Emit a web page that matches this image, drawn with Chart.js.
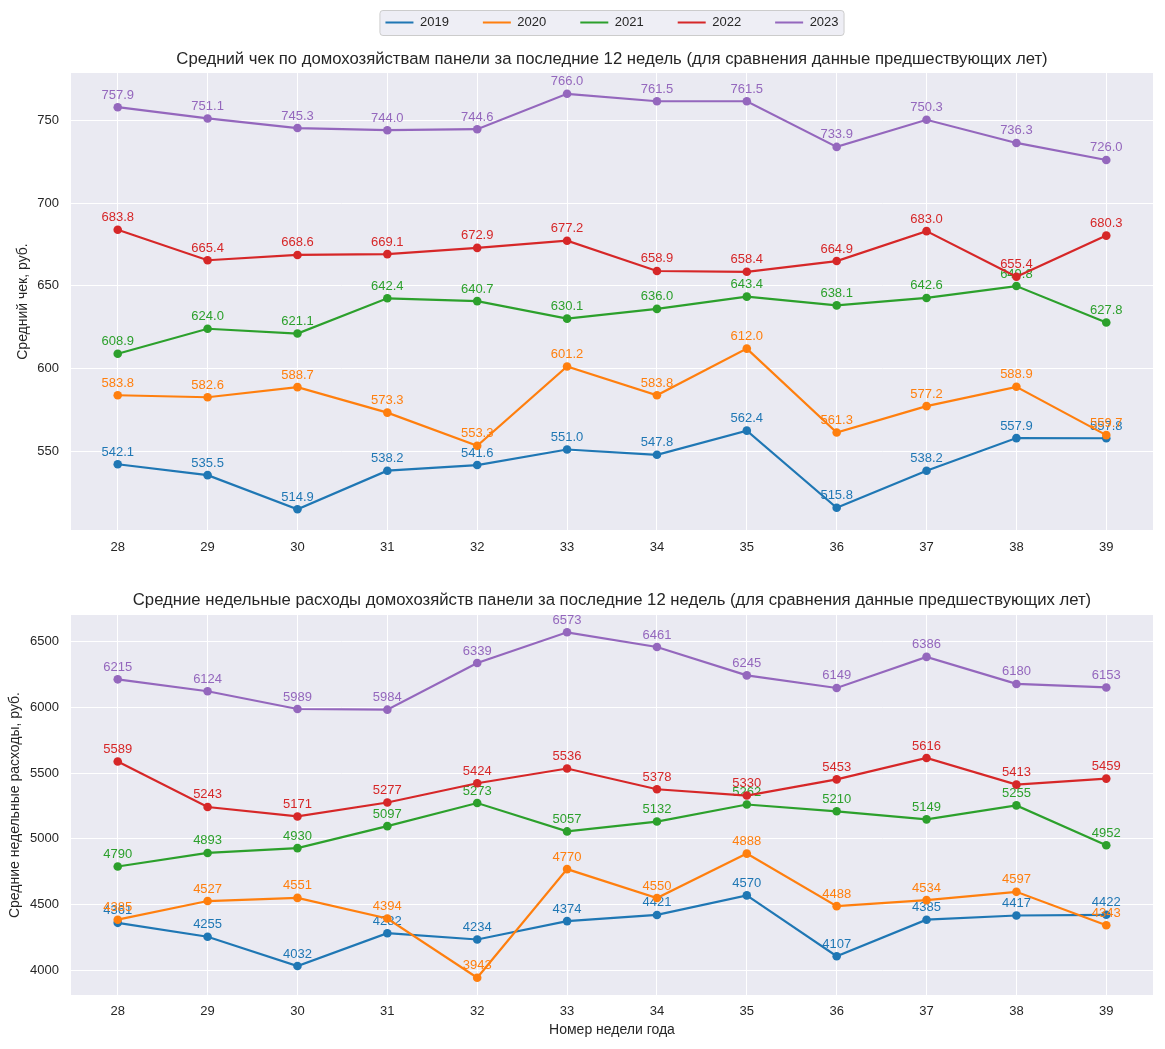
<!DOCTYPE html>
<html>
<head>
<meta charset="utf-8">
<script src="https://cdn.jsdelivr.net/npm/chart.js@4.4.0/dist/chart.umd.min.js"></script>
<style>
  body { margin: 0; background: #ffffff; }
  .box { position: relative; width: 1165px; }
</style>
</head>
<body>
<div class="box" style="height:575px"><canvas id="checkChart"></canvas></div>
<div class="box" style="height:474px"><canvas id="spendChart"></canvas></div>
<script>
const weeks = [28, 29, 30, 31, 32, 33, 34, 35, 36, 37, 38, 39];
const years = ['2019', '2020', '2021', '2022', '2023'];
const colors = ['#1f77b4', '#ff7f0e', '#2ca02c', '#d62728', '#9467bd'];

// средний чек, руб.
const check2019 = [542.1, 535.5, 514.9, 538.2, 541.6, 551.0, 547.8, 562.4, 515.8, 538.2, 557.9, 557.8];
const check2020 = [583.8, 582.6, 588.7, 573.3, 553.3, 601.2, 583.8, 612.0, 561.3, 577.2, 588.9, 559.7];
const check2021 = [608.9, 624.0, 621.1, 642.4, 640.7, 630.1, 636.0, 643.4, 638.1, 642.6, 649.8, 627.8];
const check2022 = [683.8, 665.4, 668.6, 669.1, 672.9, 677.2, 658.9, 658.4, 664.9, 683.0, 655.4, 680.3];
const check2023 = [757.9, 751.1, 745.3, 744.0, 744.6, 766.0, 761.5, 761.5, 733.9, 750.3, 736.3, 726.0];

// средние недельные расходы, руб.
const spend2019 = [4361, 4255, 4032, 4282, 4234, 4374, 4421, 4570, 4107, 4385, 4417, 4422];
const spend2020 = [4385, 4527, 4551, 4394, 3943, 4770, 4550, 4888, 4488, 4534, 4597, 4343];
const spend2021 = [4790, 4893, 4930, 5097, 5273, 5057, 5132, 5262, 5210, 5149, 5255, 4952];
const spend2022 = [5589, 5243, 5171, 5277, 5424, 5536, 5378, 5330, 5453, 5616, 5413, 5459];
const spend2023 = [6215, 6124, 5989, 5984, 6339, 6573, 6461, 6245, 6149, 6386, 6180, 6153];

const checkTicks = [550, 600, 650, 700, 750];
const spendTicks = [4000, 4500, 5000, 5500, 6000, 6500];

const checkTitle = 'Средний чек по домохозяйствам панели за последние 12 недель (для сравнения данные предшествующих лет)';
const spendTitle = 'Средние недельные расходы домохозяйств панели за последние 12 недель (для сравнения данные предшествующих лет)';

const FONT = '"Liberation Sans", Arial, sans-serif';
const TEXT = '#262626';
const TITLE_SIZE = 16.7;

function padRange(arrs, frac) {
  const all = [].concat(...arrs);
  const lo = Math.min(...all), hi = Math.max(...all);
  const m = (hi - lo) * frac;
  return { min: lo - m, max: hi + m };
}

// фон панели и рамка легенды
const panelBg = {
  id: 'panelBg',
  beforeDraw(chart) {
    const { ctx, chartArea: a } = chart;
    ctx.save();
    ctx.fillStyle = '#eaeaf2';
    ctx.fillRect(a.left, a.top, a.right - a.left, a.bottom - a.top);
    const lg = chart.legend;
    if (lg && lg.options.display) {
      const P = lg.options.labels.padding;
      const W = lg.lineWidths[0];
      const x0 = (lg.left + P + lg.right - W) / 2;
      const x1 = x0 + W - P;
      ctx.beginPath();
      ctx.roundRect(x0 - 5.5, 10.5, x1 - x0 + 11, 25, 3);
      ctx.fillStyle = 'rgba(234,234,242,0.8)';
      ctx.fill();
      ctx.strokeStyle = '#cccccc';
      ctx.lineWidth = 1;
      ctx.stroke();
    }
    ctx.restore();
  }
};

// центрирование заголовка и легенды над областью графика
const centerBoxes = {
  id: 'centerBoxes',
  afterLayout(chart, args, opts) {
    const a = chart.chartArea;
    const mid = (a.left + a.right) / 2;
    const t = chart.titleBlock;
    if (t && t.options.display) {
      const dx = mid - (t.left + t.right) / 2;
      t.left += dx; t.right += dx;
      if (opts.titleCenter != null) {
        const h = t.height;
        t.top = opts.titleCenter - t.options.font.size * 0.6;
        t.bottom = t.top + h;
      }
    }
    const lg = chart.legend;
    if (lg && lg.options.display) {
      const dx = mid - (lg.left + lg.right) / 2;
      lg.left += dx; lg.right += dx;
      const P = lg.options.labels.padding;
      lg.top = opts.legendCenter - 6.5 - P;
      lg.height = 90;
      lg.bottom = lg.top + 90;
    }
  }
};

// подписи значений над точками
const valueLabels = {
  id: 'valueLabels',
  afterDatasetDraw(chart, args, opts) {
    const { ctx } = chart;
    const ds = chart.data.datasets[args.index];
    ctx.save();
    ctx.font = '13px ' + FONT;
    ctx.fillStyle = ds.borderColor;
    ctx.textAlign = 'center';
    ctx.textBaseline = 'alphabetic';
    args.meta.data.forEach((pt, i) => {
      ctx.fillText(ds.data[i].toFixed(opts.digits), pt.x, pt.y - 8.5);
    });
    ctx.restore();
  }
};

function makeChart(id, series, yTicks, cfg) {
  const yr = padRange(series, 0.05);
  const ctx = document.getElementById(id).getContext('2d');
  return new Chart(ctx, {
    type: 'line',
    data: {
      labels: weeks,
      datasets: series.map((vals, i) => ({
        label: years[i],
        data: vals,
        borderColor: colors[i],
        backgroundColor: colors[i],
        borderWidth: 2.2,
        pointRadius: 4.3,
        pointHoverRadius: 4.3,
        pointBorderWidth: 0,
        pointBackgroundColor: colors[i],
        tension: 0,
        order: series.length - i,
      })),
    },
    options: {
      responsive: true,
      maintainAspectRatio: false,
      animation: false,
      events: [],
      layout: { padding: { left: 0, right: 12, top: cfg.padTop, bottom: 0 } },
      scales: {
        x: {
          type: 'linear',
          min: weeks[0] - 0.52,
          max: weeks[weeks.length - 1] + 0.52,
          afterBuildTicks: (ax) => { ax.ticks = weeks.map(v => ({ value: v })); },
          afterFit: (ax) => { ax.height = cfg.xHeight; },
          border: { display: false },
          grid: { color: '#ffffff', lineWidth: 1, drawTicks: false },
          ticks: { color: TEXT, font: { family: FONT, size: 13 }, padding: cfg.xTickPad, autoSkip: false, maxRotation: 0, callback: v => String(v) },
          title: cfg.xTitle ? { display: true, text: cfg.xTitle, color: TEXT, font: { family: FONT, size: 14 }, padding: { top: 0, bottom: cfg.xTitlePad } } : { display: false },
        },
        y: {
          min: yr.min,
          max: yr.max,
          afterBuildTicks: (ax) => { ax.ticks = yTicks.map(v => ({ value: v })); },
          afterFit: (ax) => { ax.width = 71; },
          border: { display: false },
          grid: { color: '#ffffff', lineWidth: 1, drawTicks: false },
          ticks: { color: TEXT, font: { family: FONT, size: 13 }, padding: 12, callback: v => String(v) },
          title: { display: true, text: cfg.yTitle, color: TEXT, font: { family: FONT, size: 14 }, padding: { top: cfg.yTitlePad, bottom: 0 } },
        },
      },
      plugins: {
        tooltip: { enabled: false },
        legend: {
          display: cfg.legend,
          maxHeight: 40,
          labels: {
            color: TEXT,
            font: { family: FONT, size: 13 },
            boxWidth: 28,
            boxHeight: 2,
            padding: 34,
            sort: (a, b) => a.datasetIndex - b.datasetIndex,
            generateLabels: (chart) => Chart.defaults.plugins.legend.labels.generateLabels(chart).map(l => Object.assign(l, { lineWidth: 0 })),
          },
        },
        title: {
          display: true,
          text: cfg.title,
          color: TEXT,
          font: { family: FONT, size: TITLE_SIZE, weight: 'normal' },
          padding: cfg.titlePad,
        },
        valueLabels: { digits: cfg.digits },
        centerBoxes: { legendCenter: 22.5, titleCenter: cfg.titleCenter },
      },
    },
    plugins: [panelBg, centerBoxes, valueLabels],
  });
}

makeChart('checkChart', [check2019, check2020, check2021, check2022, check2023], checkTicks, {
  title: checkTitle, yTitle: 'Средний чек, руб.', yTitlePad: 15, digits: 1,
  legend: true, padTop: 13, titlePad: { top: 0, bottom: 0 }, titleCenter: 59.5,
  xHeight: 45, xTickPad: 10, xTitle: null,
});

makeChart('spendChart', [spend2019, spend2020, spend2021, spend2022, spend2023], spendTicks, {
  title: spendTitle, yTitle: 'Средние недельные расходы, руб.', yTitlePad: 7, digits: 0,
  legend: false, padTop: 0, titlePad: { top: 15, bottom: 5 }, titleCenter: null,
  xHeight: 54, xTickPad: 9, xTitle: 'Номер недели года', xTitlePad: 10,
});
</script>
</body>
</html>
